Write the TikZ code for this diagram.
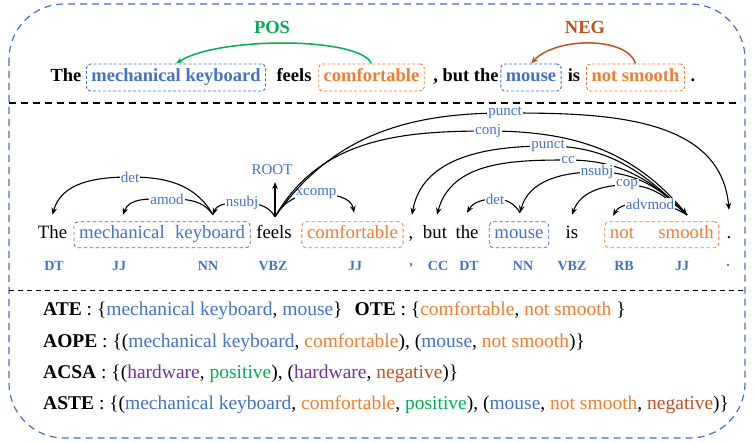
\documentclass[tikz,border=0pt]{standalone}
\usepackage{fontspec}
\setmainfont{Liberation Serif}
\usetikzlibrary{arrows.meta,fit}
\definecolor{cblue}{HTML}{4472C4}
\definecolor{corange}{HTML}{ED7D31}
\definecolor{cgreen}{HTML}{00B050}
\definecolor{cred}{HTML}{C0501E}
\definecolor{cpurple}{HTML}{7030A0}
\begin{document}
\begin{tikzpicture}[x=1pt,y=1pt,
  topw/.style={font=\fontsize{18.5}{20}\selectfont\bfseries, anchor=base, inner sep=0pt, text height=13pt, text depth=4pt},
  topbox/.style={topw, draw, dash pattern=on 3pt off 2pt, rounded corners=4pt, inner xsep=5pt, inner ysep=5pt, line width=0.9pt},
  mw/.style={font=\fontsize{18.8}{20}\selectfont, anchor=base, inner sep=0pt, text height=13pt, text depth=4.5pt},
  wbox/.style={draw, dash pattern=on 3.5pt off 2.5pt, rounded corners=4pt, inner xsep=5pt, inner ysep=4pt, line width=0.8pt},
  tag/.style={font=\fontsize{14}{15}\selectfont\bfseries, text=cblue, inner sep=0pt},
  lbl/.style={font=\fontsize{15}{16}\selectfont, text=cblue, fill=white, inner sep=1pt},
  dep/.style={line width=1.1pt, -{Stealth[length=7pt,width=5.5pt]}},
  sent/.style={line width=1.5pt, -{Stealth[length=7pt,width=5.5pt]}},
  bl/.style={font=\fontsize{19.5}{22}\selectfont, anchor=base west, inner sep=0pt},
  pl/.style={font=\fontsize{18.5}{20}\selectfont\bfseries, inner sep=0pt}
]
\useasboundingbox (0,0) rectangle (754,-443);
% outer frame and separators
\draw[cblue, dash pattern=on 7pt off 5pt, line width=1.2pt, rounded corners=55pt] (9,-4) rectangle (745,-438);
\draw[line width=1.8pt, dash pattern=on 7pt off 5pt] (9,-103) -- (741,-103);
\draw[line width=1pt, dash pattern=on 5pt off 4pt] (9,-291) -- (745,-291);

% ---------- top sentence ----------
\node[topw] (tThe) at (66,-82) {The};
\node[topbox, cblue] (tMK) at (176,-82) {mechanical keyboard};
\node[topw] (tFeels) at (294,-82) {feels};
\node[topbox, corange] (tComf) at (371.5,-82) {comfortable};
\node[topw] (tBut) at (466,-82) {, but the};
\node[topbox, cblue] (tMouse) at (531,-82) {mouse};
\node[topw] (tIs) at (574,-82) {is};
\node[topbox, corange] (tNS) at (635.5,-82) {not smooth};
\node[topw] (tDot) at (693,-82) {.};
\node[pl, text=cgreen] (pos) at (272,-27) {POS};
\node[pl, text=cred] (neg) at (585,-27) {NEG};
\draw[sent, cgreen] (tComf.north) .. controls +(-12,27) and +(42,27) .. (tMK.north);
\draw[sent, cred] (tNS.north) .. controls +(-8,27) and +(25,27) .. (tMouse.north);

% ---------- dependency parse ----------
\node[mw] (mThe) at (52.5,-239) {The};
\node[mw, cblue] (mMech) at (122,-239) {mechanical};
\node[mw, cblue] (mKey) at (210,-239) {keyboard};
\node[mw] (mFeels) at (274,-239) {feels};
\node[mw, corange] (mComf) at (352.5,-239) {comfortable};
\node[mw] (mComma) at (411,-239) {,};
\node[mw] (mBut) at (435,-239) {but};
\node[mw] (mThe2) at (467,-239) {the};
\node[mw, cblue] (mMouse) at (519,-239) {mouse};
\node[mw] (mIs) at (572,-239) {is};
\node[mw, corange] (mNot) at (622,-239) {not};
\node[mw, corange] (mSmooth) at (686,-239) {smooth};
\node[mw] (mDot) at (729,-239) {.};

\node[wbox, draw=cblue, fit=(mMech)(mKey)] (bMK) {};
\node[wbox, draw=corange, fit=(mComf)] (bComf) {};
\node[wbox, draw=cblue, fit=(mMouse)] (bMouse) {};
\node[wbox, draw=corange, fit=(mNot)(mSmooth)] (bNS) {};

% tags
\node[tag] (gThe) at (54,-266) {DT};
\node[tag] (gMech) at (119,-266) {JJ};
\node[tag] (gKey) at (208,-266) {NN};
\node[tag] (gFeels) at (273,-266) {VBZ};
\node[tag] (gComf) at (355,-266) {JJ};
\node[tag] (gComma) at (411,-266) {,};
\node[tag] (gBut) at (438,-266) {CC};
\node[tag] (gThe2) at (469,-266) {DT};
\node[tag] (gMouse) at (523,-266) {NN};
\node[tag] (gIs) at (572,-266) {VBZ};
\node[tag] (gNot) at (624,-266) {RB};
\node[tag] (gSmooth) at (682,-266) {JJ};
\node[tag] (gDot) at (728,-266) {.};

% arc anchor points
\coordinate (pThe) at ([yshift=11pt]mThe.north);
\coordinate (pMech) at ([xshift=1pt,yshift=11pt]mMech.north);
\coordinate (pKey) at ([xshift=3pt,yshift=11pt]mKey.north);
\coordinate (pFeels) at ([xshift=1pt,yshift=9pt]mFeels.north);
\coordinate (pComf) at ([xshift=1.5pt,yshift=13pt]mComf.north);
\coordinate (pComma) at ([xshift=1pt,yshift=11pt]mComma.north);
\coordinate (pBut) at ([xshift=2pt,yshift=11pt]mBut.north);
\coordinate (pThe2) at ([yshift=13pt]mThe2.north);
\coordinate (pMouse) at ([xshift=1pt,yshift=13pt]mMouse.north);
\coordinate (pIs) at ([yshift=11pt]mIs.north);
\coordinate (pNot) at ([xshift=-9pt,yshift=10pt]mNot.north);
\coordinate (pSmooth) at ([xshift=1pt,yshift=11pt]mSmooth.north);
\coordinate (pDot) at ([yshift=16pt]mDot.north);
\node[lbl, fill=none] (root) at (272,-170) {ROOT};
\coordinate (rootTip) at (275,-182);

\draw[dep] (pFeels) -- (rootTip);
\draw[dep] (pKey) to[out=120,in=0] node[lbl,pos=1]{det} (130,-177) to[out=180,in=75] (pThe);
\draw[dep] (pKey) to[out=125,in=0] node[lbl,pos=1]{amod} (167,-199) to[out=180,in=70] (pMech);
\draw[dep] (pFeels) to[out=120,in=0] node[lbl,pos=1]{nsubj} (242,-203) to[out=180,in=70] (pKey);
\draw[dep] (pFeels) to[out=60,in=180] node[lbl,pos=1]{xcomp} (316,-194) to[out=0,in=100] (pComf);
\draw[dep] (pFeels) to[out=55,in=180] node[lbl,pos=1]{punct} (505,-113) to[out=0,in=95] (pDot);
\draw[dep] (pFeels) to[out=60,in=180] node[lbl,pos=1]{conj} (488,-131) to[out=0,in=130] (pSmooth);
\draw[dep] (pSmooth) to[out=135,in=0] node[lbl,pos=1]{punct} (548,-146) to[out=180,in=80] (pComma);
\draw[dep] (pSmooth) to[out=135,in=0] node[lbl,pos=1]{cc} (568,-160) to[out=180,in=75] (pBut);
\draw[dep] (pSmooth) to[out=135,in=0] node[lbl,pos=1]{nsubj} (597,-172) to[out=180,in=75] (pMouse);
\draw[dep] (pSmooth) to[out=140,in=0] node[lbl,pos=1]{cop} (627,-185) to[out=180,in=70] (pIs);
\draw[dep] (pSmooth) to[out=150,in=0] node[lbl,pos=1]{advmod} (650,-204) to[out=180,in=60] (pNot);
\draw[dep] (pMouse) to[out=120,in=0] node[lbl,pos=1]{det} (495,-199) to[out=180,in=60] (pThe2);

% ---------- tasks ----------
\node[bl] (lATE) at (43,-316) {\textbf{ATE} : \{\textcolor{cblue}{mechanical keyboard}, \textcolor{cblue}{mouse}\}\hspace{12pt}\textbf{OTE} : \{\textcolor{corange}{comfortable}, \textcolor{corange}{not smooth} \}};
\node[bl] (lAOPE) at (43,-347) {\textbf{AOPE} : \{(\textcolor{cblue}{mechanical keyboard}, \textcolor{corange}{comfortable}), (\textcolor{cblue}{mouse}, \textcolor{corange}{not smooth})\}};
\node[bl] (lACSA) at (43,-378) {\textbf{ACSA} : \{(\textcolor{cpurple}{hardware}, \textcolor{cgreen}{positive}), (\textcolor{cpurple}{hardware}, \textcolor{cred}{negative})\}};
\node[bl] (lASTE) at (43,-409) {\textbf{ASTE} : \{(\textcolor{cblue}{mechanical keyboard}, \textcolor{corange}{comfortable}, \textcolor{cgreen}{positive}), (\textcolor{cblue}{mouse}, \textcolor{corange}{not smooth}, \textcolor{cred}{negative})\}};
\end{tikzpicture}
\end{document}
